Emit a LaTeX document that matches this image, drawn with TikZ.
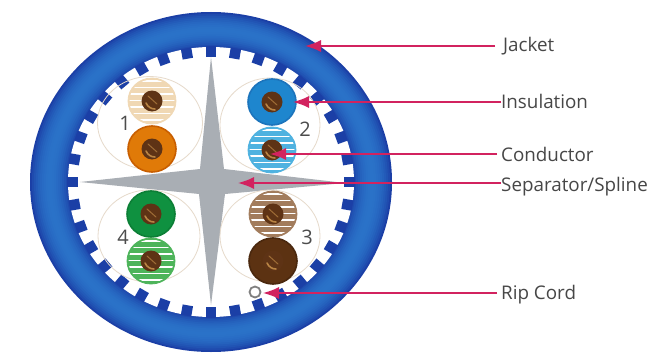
\documentclass[tikz,border=0pt]{standalone}
\usepackage{fontspec}
\setmainfont{Open Sans}
\usetikzlibrary{shapes.geometric,arrows.meta}
\definecolor{jdark}{HTML}{1B3FA6}
\definecolor{jmid}{HTML}{2A72C8}
\definecolor{pointer}{HTML}{D2235F}
\definecolor{splinegray}{HTML}{A9AEB4}
\definecolor{cu}{HTML}{5E3315}
\definecolor{cuhi}{HTML}{B98444}
\definecolor{ringtan}{HTML}{E6DACB}
\tikzset{
  x=1pt,y=-1pt,
  pairring/.style={ellipse,draw=ringtan,line width=.8pt,inner sep=0pt},
  wirebody/.style={ellipse,inner sep=0pt,minimum width=48pt,minimum height=46pt},
  conductor/.style={ellipse,inner sep=0pt,minimum width=21pt,minimum height=21pt,fill=cu},
  pairnum/.style={font=\fontsize{20}{20}\selectfont,text=black!70},
  callout/.style={anchor=base west,font=\fontsize{18.8}{20}\selectfont,text=black!72,inner sep=0pt},
  pointerline/.style={draw=pointer,line width=1.6pt,-{Latex[length=16pt,width=12pt]}},
  tooth/.style={fill=jdark,minimum width=10.5pt,minimum height=10.5pt,inner sep=0pt}
}
\newcommand{\coppercore}[3]{%
  \node[conductor] (#1) at (#2,#3) {};
  \draw[cuhi,line width=1.6pt,line cap=round] (#2-6,#3+2) .. controls (#2-4,#3+6) and (#2-1,#3+8) .. (#2+3,#3+8);
  \draw[cuhi!70!cu,line width=1pt,line cap=round] (#2-4,#3-5) -- (#2+5,#3+3);}
% \solidwire{name}{x}{y}{rim colour}{inner colour}
\newcommand{\solidwire}[5]{%
  \node[wirebody,fill=#5,draw=#4,line width=1.6pt] (#1) at (#2,#3) {};
  \coppercore{#1c}{#2}{#3}}
% \stripewire{name}{x}{y}{stripe colour}
\newcommand{\stripewire}[4]{%
  \node[wirebody,fill=#4,draw=#4,line width=.8pt] (#1) at (#2,#3) {};
  \begin{scope}
    \clip (#2,#3) ellipse [x radius=22.5pt,y radius=21.5pt];
    \foreach \k in {-20,-13.5,-7,-.5,6,12.5,19}
      \draw[white,line width=1.4pt] (#2-30,#3+\k) -- (#2+30,#3+\k);
  \end{scope}
  \coppercore{#1c}{#2}{#3}}
\begin{document}
\begin{tikzpicture}
\useasboundingbox (0,0) rectangle (647,353);
\fill[white] (0,0) rectangle (647,353);
% jacket, built from concentric ellipses for the dark-light-dark shading
\foreach \i in {0,...,19}{
  \pgfmathsetmacro{\t}{\i/19}
  \pgfmathsetmacro{\m}{100*sin(180*\t)^0.8}
  \colorlet{jnow}{jmid!\m!jdark}
  \fill[jnow] (211,182) ellipse [x radius={181-38*\t},y radius={170-35*\t}];
}
\fill[white] (211,182) ellipse [x radius=143,y radius=135];
% teeth
\foreach \a in {0,10,...,350}{
  \pgfmathsetmacro{\tx}{211+138.5*sin(\a)}
  \pgfmathsetmacro{\ty}{182-130.5*cos(\a)}
  \node[tooth,rotate=-\a] at (\tx,\ty) {};
}
% separator
\fill[splinegray] (211,57) -- (224,169) -- (345,183) -- (225,194) -- (211,305)
  -- (199,194) -- (80,182) -- (200,169) -- cycle;
\coordinate (splinept) at (238,183);
% pair outlines
\node[pairring,minimum width=105pt,minimum height=93pt] (p1) at (150,123) {};
\node[pairring,minimum width=100pt,minimum height=94pt] (p2) at (270,125) {};
\node[pairring,minimum width=102pt,minimum height=92pt] (p4) at (149,236) {};
\node[pairring,minimum width=100pt,minimum height=92pt] (p3) at (270,236) {};
% pair 1
\definecolor{wcream}{HTML}{F0D8B4}
\definecolor{worange}{HTML}{E07A08}
\definecolor{worim}{HTML}{C85E00}
\stripewire{w1a}{152}{101}{wcream}
\solidwire{w1b}{152}{149}{worim}{worange}
% pair 2
\definecolor{wblue}{HTML}{1E86CE}
\definecolor{wbrim}{HTML}{1C74BC}
\definecolor{wsky}{HTML}{4FB2E0}
\solidwire{w2a}{272}{102}{wbrim}{wblue}
\stripewire{w2b}{272}{150}{wsky}
% pair 4
\definecolor{wgreen}{HTML}{0F9140}
\definecolor{wgrim}{HTML}{0C7F36}
\definecolor{wlime}{HTML}{4DB45A}
\solidwire{w4a}{151}{214}{wgrim}{wgreen}
\stripewire{w4b}{151}{261}{wlime}
% pair 3
\definecolor{wtan}{HTML}{A27C5C}
\definecolor{wbrown}{HTML}{5C3212}
\definecolor{wbrim}{HTML}{4A280E}
\stripewire{w3a}{273}{214}{wtan}
\solidwire{w3b}{273}{261}{wbrim}{wbrown}
% numbers
\node[pairnum] (n1) at (125,123) {1};
\node[pairnum] (n2) at (305,129) {2};
\node[pairnum] (n4) at (123,237) {4};
\node[pairnum] (n3) at (307,237) {3};
% rip cord
\node[circle,draw=black!50,line width=1.8pt,minimum size=11pt,inner sep=0pt] (rip) at (255,292) {};
% targets
\coordinate (jackpt) at (305,46);
\coordinate (inspt) at (293,102);
\coordinate (condpt) at (270,154);
\coordinate (rippt) at (263,293);
% labels
\node[callout] (ljack) at (503,52) {Jacket};
\node[callout] (lins) at (501,108) {Insulation};
\node[callout] (lcond) at (501,161) {Conductor};
\node[callout] (lsep) at (501,191) {Separator/Spline};
\node[callout] (lrip) at (501,299) {Rip Cord};
% pointers
\draw[pointerline] ([xshift=-8pt]ljack.west|-jackpt) -- (jackpt);
\draw[pointerline] (lins.west|-inspt) -- (inspt);
\draw[pointerline] ([xshift=-4pt]lcond.west|-condpt) -- (condpt);
\draw[pointerline] (lsep.west|-splinept) -- (splinept);
\draw[pointerline] ([xshift=-4pt]lrip.west|-rippt) -- (rippt);
\end{tikzpicture}
\end{document}
